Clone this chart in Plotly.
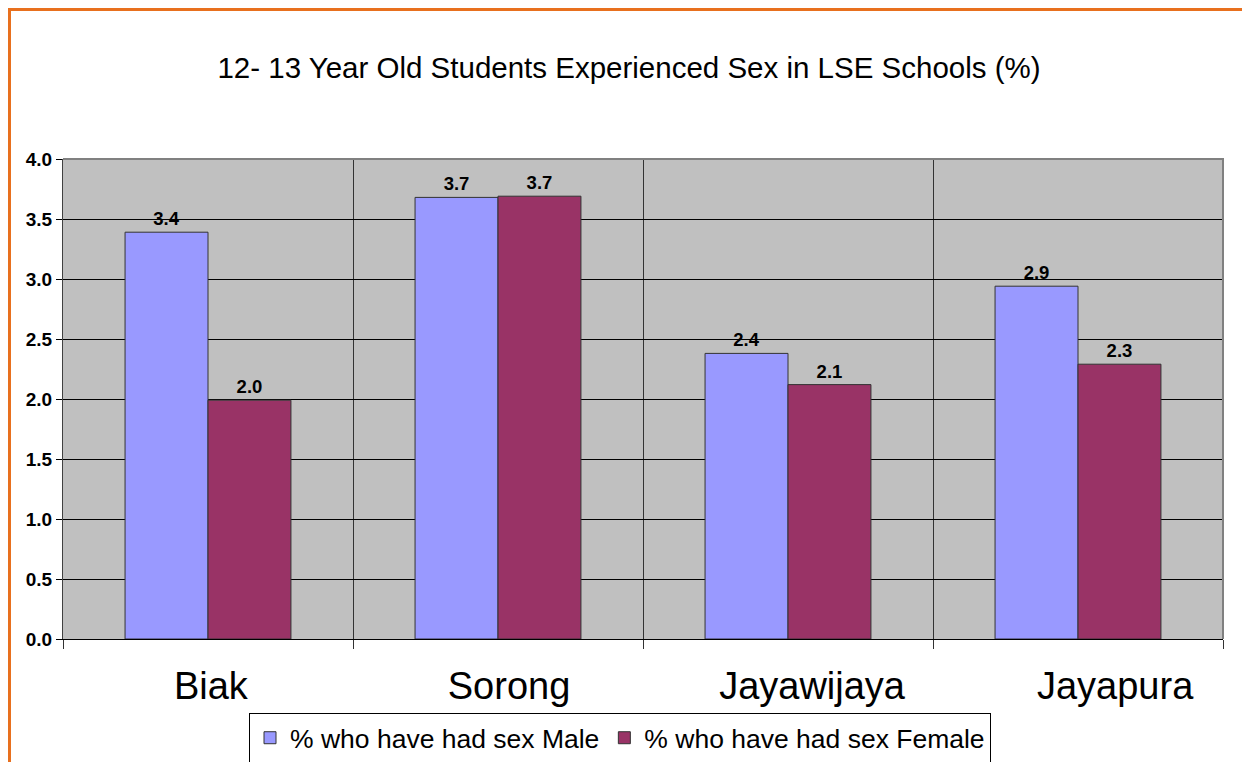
import plotly.graph_objects as go

categories = ["Biak", "Sorong", "Jayawijaya", "Jayapura"]
male = [3.39, 3.68, 2.38, 2.94]
female = [1.99, 3.69, 2.12, 2.29]
male_labels = ["3.4", "3.7", "2.4", "2.9"]
female_labels = ["2.0", "3.7", "2.1", "2.3"]
series_names = ["% who have had sex Male", "% who have had sex Female"]
y_ticks = [0, 0.5, 1.0, 1.5, 2.0, 2.5, 3.0, 3.5, 4.0]

# page has an 8px body margin; figure coordinates = reference - 8
OFF = 8
W, H = 1250 - OFF, 762 - OFF
L, T = 63 - OFF, 159 - OFF
R = W - (1223 - OFF)
B = H - (639 - OFF)
pw, ph = W - L - R, H - T - B
plot_bottom = T + ph

xpos = [i + 0.5 for i in range(len(categories))]
# category labels in the original drift slightly right of the bar groups
label_shift = [0.01, 0.038, 0.083, 0.128]
label_pos = [p + s for p, s in zip(xpos, label_shift)]

label_font = dict(family="Arial", size=18.5, color="black", weight="bold")

fig = go.Figure()
fig.add_trace(go.Bar(
    x=xpos, y=male, name=series_names[0], text=male_labels,
    textposition="outside", cliponaxis=False, textfont=label_font,
    marker=dict(color="#9999FF", line=dict(color="#333333", width=1)),
))
fig.add_trace(go.Bar(
    x=xpos, y=female, name=series_names[1], text=female_labels,
    textposition="outside", cliponaxis=False, textfont=label_font,
    marker=dict(color="#993366", line=dict(color="#333333", width=1)),
))

fig.update_layout(
    width=W, height=H,
    margin=dict(l=L, r=R, t=T, b=B, autoexpand=False),
    paper_bgcolor="white", plot_bgcolor="#C0C0C0",
    barmode="group", bargap=0.428, bargroupgap=0,
    font=dict(family="Arial", color="black"),
    title=dict(text="12- 13 Year Old Students Experienced Sex in LSE Schools (%)",
               x=0.5, xanchor="center", y=1 - (68 - OFF) / H, yanchor="middle",
               font=dict(size=29.5, family="Arial", color="black")),
    showlegend=True,
    legend=dict(orientation="h", x=(620 - OFF - L) / pw, xanchor="center",
                y=(plot_bottom - (738 - OFF)) / ph, yanchor="middle",
                bgcolor="white", bordercolor="black", borderwidth=1,
                font=dict(size=26.5, family="Arial", color="black"),
                traceorder="normal"),
    xaxis=dict(range=[0, len(categories)], tickvals=label_pos, ticktext=categories,
               showgrid=False, ticks="", ticklen=0,
               tickfont=dict(size=38, family="Arial", color="black"),
               ticklabelstandoff=13,
               showline=True, linecolor="black", linewidth=1,
               zeroline=False,
               minor=dict(tickvals=list(range(len(categories) + 1)),
                          showgrid=True, gridcolor="#333333", gridwidth=1,
                          ticks="outside", ticklen=9, tickcolor="#333333")),
    yaxis=dict(range=[0, 4.0], tickvals=y_ticks,
               ticktext=[f"{v:.1f}" for v in y_ticks],
               showgrid=True, gridcolor="black", gridwidth=1,
               ticks="outside", ticklen=6, tickcolor="black",
               tickfont=dict(size=19, family="Arial", color="black", weight="bold"),
               showline=True, linecolor="#404040", linewidth=1,
               zeroline=False),
    shapes=[
        dict(type="path", xref="paper", yref="paper",
             path="M 0,1 L 1,1 L 1,0", line=dict(color="#808080", width=2)),
        dict(type="rect", xref="paper", yref="paper",
             x0=(1.5 - L) / pw, x1=(1241 - L) / pw,
             y0=(plot_bottom - 800) / ph, y1=(plot_bottom - 1.5) / ph,
             line=dict(color="#E8701E", width=3), fillcolor="rgba(0,0,0,0)"),
    ],
)

fig.write_html("out.html")
